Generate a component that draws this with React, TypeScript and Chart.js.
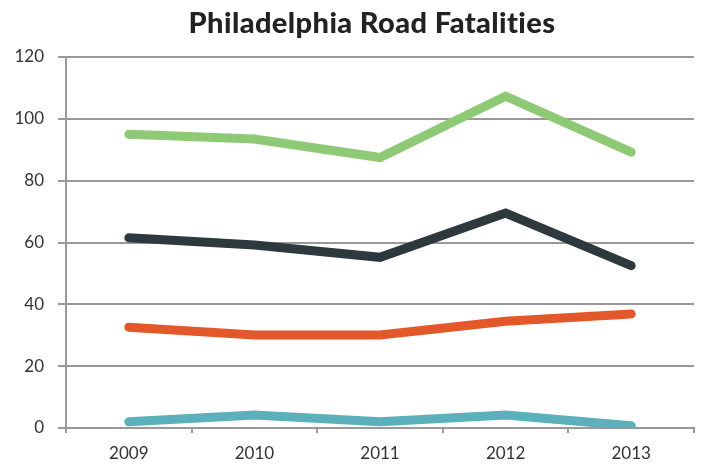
import React, { useEffect, useRef } from "react";
import { Chart, registerables } from "chart.js";

Chart.register(...registerables);

const TITLE = "Philadelphia Road Fatalities";
const years = ["2009", "2010", "2011", "2012", "2013"];
const greenSeries = [95, 93.5, 87.5, 107.3, 89.2];
const darkSeries = [61.5, 59.2, 55.2, 69.5, 52.5];
const orangeSeries = [32.6, 30.1, 30.1, 34.5, 36.9];
const tealSeries = [2, 4.2, 2, 4.2, 0.7];
const yTicks = [0, 20, 40, 60, 80, 100, 120];

const FONT = "Lato, 'Open Sans', sans-serif";

const titlePlugin = {
  id: "customTitle",
  afterDraw(chart: any) {
    const { ctx, chartArea } = chart;
    ctx.save();
    ctx.font = `900 29px ${FONT}`;
    try {
      (ctx as any).letterSpacing = "0.4px";
    } catch (e) {}
    ctx.fillStyle = "#222222";
    ctx.textAlign = "center";
    ctx.textBaseline = "middle";
    ctx.fillText(TITLE, (chartArea.left + chartArea.right) / 2 - 8, 24);
    ctx.restore();
  },
};

export default function App() {
  const ref = useRef<HTMLCanvasElement | null>(null);
  useEffect(() => {
    if (!ref.current) return;
    const mk = (data: number[], color: string) => ({
      data,
      borderColor: color,
      backgroundColor: color,
      borderWidth: 9,
      borderCapStyle: "round" as const,
      borderJoinStyle: "miter" as const,
      pointRadius: 0,
      pointHoverRadius: 0,
      tension: 0,
      fill: false,
    });
    const chart = new Chart(ref.current, {
      type: "line",
      data: {
        labels: years,
        datasets: [
          mk(tealSeries, "#5cb0bb"),
          mk(orangeSeries, "#e3582b"),
          mk(darkSeries, "#2d393d"),
          mk(greenSeries, "#8ec975"),
        ],
      },
      options: {
        animation: false,
        responsive: true,
        maintainAspectRatio: false,
        layout: { padding: { top: 57, right: 9, left: 0, bottom: 0 } },
        plugins: {
          legend: { display: false },
          tooltip: { enabled: false },
          title: { display: false },
        },
        scales: {
          x: {
            offset: true,
            grid: {
              offset: true,
              drawOnChartArea: false,
              drawTicks: true,
              tickLength: 5,
              color: "#999999",
              lineWidth: 2,
            },
            border: { display: true, color: "#999999", width: 2 },
            ticks: {
              color: "#333333",
              font: { family: FONT, size: 17 },
              padding: 10,
            },
            afterFit(scale: any) {
              scale.height = 37;
            },
          },
          y: {
            min: 0,
            max: 120,
            afterBuildTicks(scale: any) {
              scale.ticks = yTicks.map((v) => ({ value: v }));
            },
            grid: {
              color: "#999999",
              lineWidth: 2,
              drawTicks: true,
              tickLength: 8,
            },
            border: { display: true, color: "#999999", width: 2 },
            ticks: {
              color: "#333333",
              font: { family: FONT, size: 17 },
              padding: 14,
            },
            afterFit(scale: any) {
              scale.width = 66;
            },
          },
        },
      },
      plugins: [titlePlugin],
    });
    return () => chart.destroy();
  }, []);
  return (
    <div style={{ position: "absolute", left: 0, top: 0, width: 703, height: 465, background: "#fff" }}>
      <canvas ref={ref} />
    </div>
  );
}
